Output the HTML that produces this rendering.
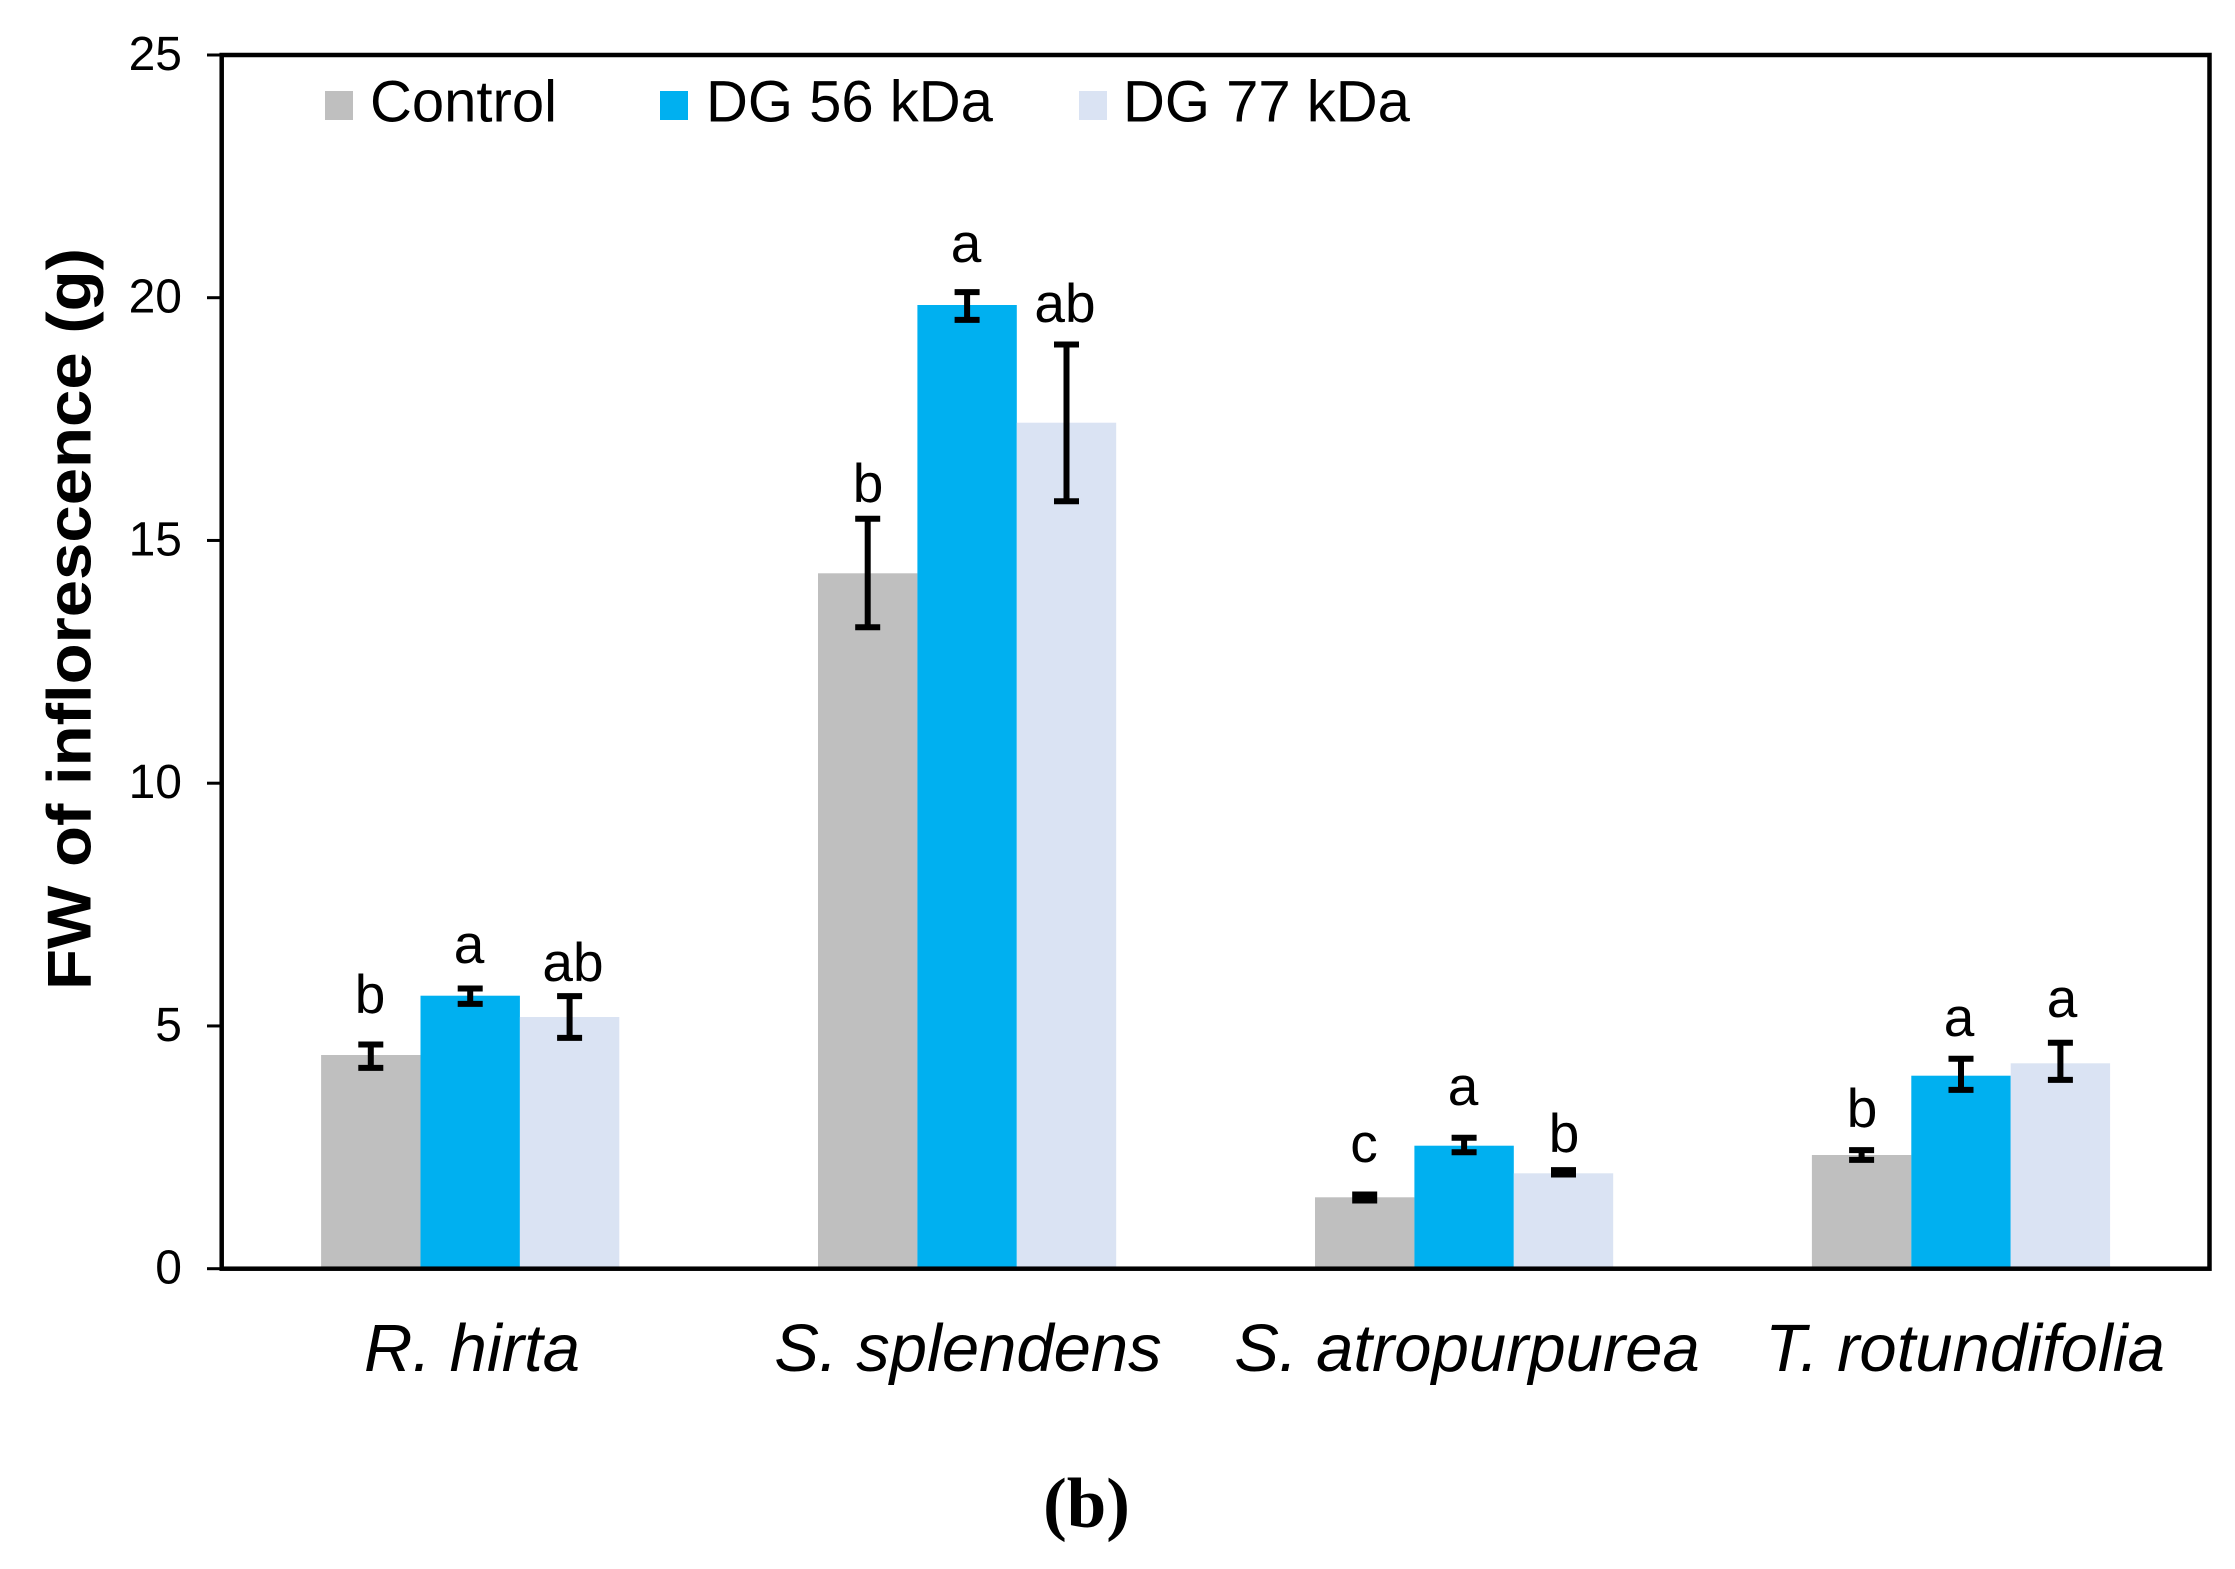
<!DOCTYPE html>
<html>
<head>
<meta charset="utf-8">
<style>
html,body{margin:0;padding:0;background:#fff;}
svg{display:block;}
text{font-family:"Liberation Sans",Arial,sans-serif;fill:#000;}
</style>
</head>
<body>
<svg width="2235" height="1569" viewBox="0 0 2235 1569" xmlns="http://www.w3.org/2000/svg">
<rect x="0" y="0" width="2235" height="1569" fill="#fff"/>

<!-- Bars -->
<g>
  <!-- R. hirta -->
  <rect x="321.1" y="1055" width="99.4" height="213.7" fill="#BFBFBF"/>
  <rect x="420.5" y="995.7" width="99.4" height="273" fill="#00B0F0"/>
  <rect x="519.9" y="1017" width="99.4" height="251.7" fill="#DAE3F3"/>
  <!-- S. splendens -->
  <rect x="818" y="573.3" width="99.4" height="695.4" fill="#BFBFBF"/>
  <rect x="917.4" y="305" width="99.4" height="963.7" fill="#00B0F0"/>
  <rect x="1016.8" y="422.7" width="99.4" height="846" fill="#DAE3F3"/>
  <!-- S. atropurpurea -->
  <rect x="1315" y="1197.3" width="99.4" height="71.4" fill="#BFBFBF"/>
  <rect x="1414.4" y="1145.7" width="99.4" height="123" fill="#00B0F0"/>
  <rect x="1513.8" y="1173.3" width="99.4" height="95.4" fill="#DAE3F3"/>
  <!-- T. rotundifolia -->
  <rect x="1811.9" y="1155" width="99.4" height="113.7" fill="#BFBFBF"/>
  <rect x="1911.3" y="1075.7" width="99.4" height="193" fill="#00B0F0"/>
  <rect x="2010.7" y="1063.3" width="99.4" height="205.4" fill="#DAE3F3"/>
</g>

<!-- Error bars -->
<g stroke="#000" stroke-width="6" fill="none">
  <!-- G1 -->
  <path d="M370.8 1044.5 V1067.9 M358.3 1044.5 H383.3 M358.3 1067.9 H383.3"/>
  <path d="M470.2 988.5 V1003.9 M457.7 988.5 H482.7 M457.7 1003.9 H482.7"/>
  <path d="M569.6 996.1 V1037.9 M557.1 996.1 H582.1 M557.1 1037.9 H582.1"/>
  <!-- G2 -->
  <path d="M867.7 518.8 V627.2 M855.2 518.8 H880.2 M855.2 627.2 H880.2"/>
  <path d="M967.1 292.1 V319.9 M954.6 292.1 H979.6 M954.6 319.9 H979.6"/>
  <path d="M1066.5 344.5 V501.2 M1054 344.5 H1079 M1054 501.2 H1079"/>
  <!-- G3 -->
  <path d="M1364.7 1194.5 V1200.5 M1352.2 1194.5 H1377.2 M1352.2 1200.5 H1377.2"/>
  <path d="M1464.1 1137.8 V1152.2 M1451.6 1137.8 H1476.6 M1451.6 1152.2 H1476.6"/>
  <path d="M1563.5 1170.1 V1174.5 M1551 1170.1 H1576 M1551 1174.5 H1576"/>
  <!-- G4 -->
  <path d="M1861.6 1150.1 V1159.9 M1849.1 1150.1 H1874.1 M1849.1 1159.9 H1874.1"/>
  <path d="M1961 1058.8 V1089.9 M1948.5 1058.8 H1973.5 M1948.5 1089.9 H1973.5"/>
  <path d="M2060.4 1042.8 V1079.9 M2047.9 1042.8 H2072.9 M2047.9 1079.9 H2072.9"/>
</g>

<!-- Significance letters -->
<g font-size="55" text-anchor="middle">
  <text x="370" y="1013">b</text>
  <text x="469" y="963">a</text>
  <text x="573" y="981">ab</text>
  <text x="868" y="502">b</text>
  <text x="966" y="262">a</text>
  <text x="1065" y="322">ab</text>
  <text x="1364" y="1162">c</text>
  <text x="1463" y="1105">a</text>
  <text x="1564" y="1152">b</text>
  <text x="1862" y="1127">b</text>
  <text x="1959" y="1036">a</text>
  <text x="2062" y="1017">a</text>
</g>

<!-- Axes frame -->
<rect x="221.7" y="55" width="1987.8" height="1213.7" fill="none" stroke="#000" stroke-width="4.5"/>

<!-- Y ticks -->
<g stroke="#000" stroke-width="3">
  <line x1="207" y1="1268.7" x2="221.7" y2="1268.7"/>
  <line x1="207" y1="1220.0" x2="221.7" y2="1220.0" stroke-width="0"/>
  <line x1="207" y1="1025.95" x2="221.7" y2="1025.95"/>
  <line x1="207" y1="783.2" x2="221.7" y2="783.2"/>
  <line x1="207" y1="540.45" x2="221.7" y2="540.45"/>
  <line x1="207" y1="297.7" x2="221.7" y2="297.7"/>
  <line x1="207" y1="55" x2="221.7" y2="55"/>
</g>
<g font-size="48" text-anchor="end">
  <text x="182" y="1283.7">0</text>
  <text x="182" y="1040.95">5</text>
  <text x="182" y="798.2">10</text>
  <text x="182" y="555.45">15</text>
  <text x="182" y="312.7">20</text>
  <text x="182" y="70">25</text>
</g>

<!-- Y axis title -->
<text transform="translate(90.5,619) rotate(-90)" text-anchor="middle" font-size="62" font-weight="bold" textLength="742" lengthAdjust="spacingAndGlyphs">FW of inflorescence  (g)</text>

<!-- X category labels -->
<g font-size="67" font-style="italic" text-anchor="middle">
  <text x="472" y="1371">R. hirta</text>
  <text x="968" y="1371">S. splendens</text>
  <text x="1467" y="1371">S. atropurpurea</text>
  <text x="1965" y="1371">T. rotundifolia</text>
</g>

<!-- Legend -->
<rect x="325" y="91" width="28" height="29" fill="#BFBFBF"/>
<text x="370" y="121.5" font-size="58">Control</text>
<rect x="660" y="91" width="28" height="29" fill="#00B0F0"/>
<text x="706" y="121.5" font-size="58">DG 56 kDa</text>
<rect x="1079" y="91" width="28" height="29" fill="#DAE3F3"/>
<text x="1123" y="121.5" font-size="58">DG 77 kDa</text>

<!-- Panel label -->
<text x="1086.5" y="1527" text-anchor="middle" font-size="71" font-weight="bold" style="font-family:'Liberation Serif','Times New Roman',serif;">(b)</text>
</svg>
</body>
</html>
